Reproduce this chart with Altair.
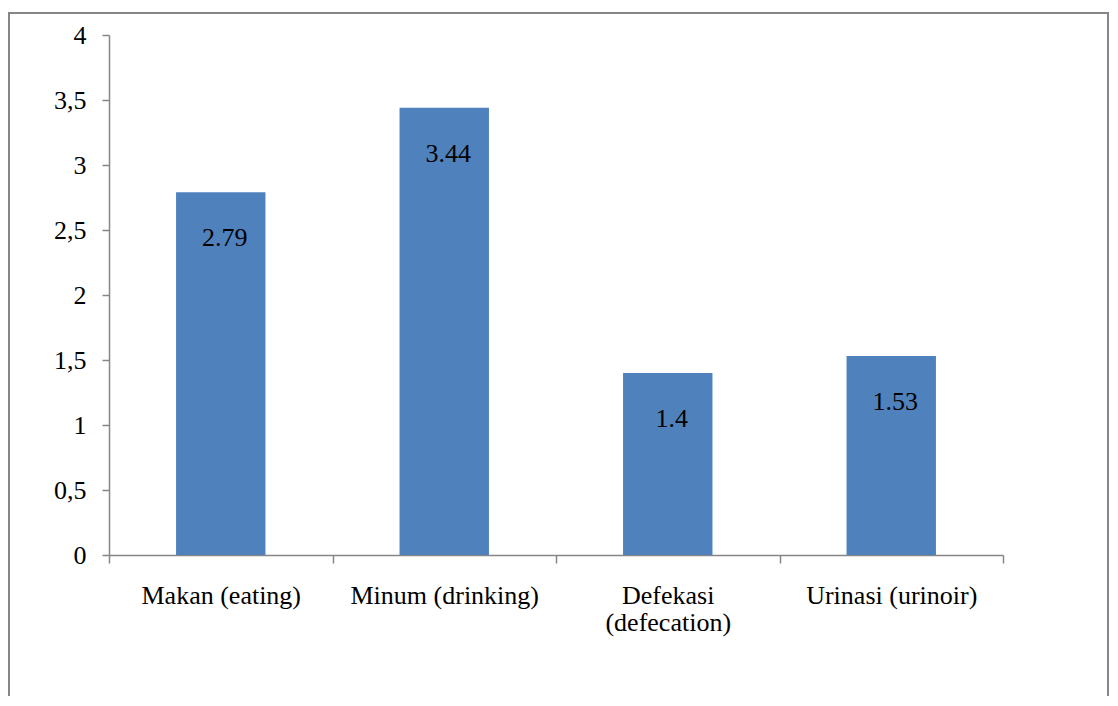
import altair as alt
import pandas as pd

categories = ["Makan (eating)", "Minum (drinking)", "Defekasi\n(defecation)", "Urinasi (urinoir)"]
values = [2.79, 3.44, 1.4, 1.53]
value_labels = ["2.79", "3.44", "1.4", "1.53"]
y_ticks = [0, 0.5, 1, 1.5, 2, 2.5, 3, 3.5, 4]

df = pd.DataFrame({"cat": categories, "val": values, "lab": value_labels})

FONT = "Liberation Serif"
GRAY = "#868686"
BLUE = "#4F81BD"
FS = 26

x_enc = alt.X(
    "cat:N",
    sort=categories,
    scale=alt.Scale(paddingInner=0, paddingOuter=0),
    axis=alt.Axis(
        title=None,
        labelAngle=0,
        labelFont=FONT,
        labelFontSize=FS,
        labelColor="black",
        labelPadding=19,
        labelLineHeight=27,
        labelLimit=500,
        labelExpr="split(datum.label, '\\n')",
        ticks=True,
        tickBand="extent",
        tickSize=8,
        tickColor=GRAY,
        tickWidth=1.5,
        domainColor=GRAY,
        domainWidth=1.5,
        grid=False,
    ),
)
y_enc = alt.Y(
    "val:Q",
    scale=alt.Scale(domain=[0, 4], nice=False),
    axis=alt.Axis(
        title=None,
        values=y_ticks,
        labelExpr="replace(format(datum.value, '.1~f'), '.', ',')",
        labelFont=FONT,
        labelFontSize=FS,
        labelColor="black",
        labelPadding=16,
        ticks=True,
        tickSize=7,
        tickColor=GRAY,
        tickWidth=1.5,
        domainColor=GRAY,
        domainWidth=1.5,
        grid=False,
    ),
)

bars = alt.Chart(df).mark_bar(color=BLUE, width=alt.RelativeBandSize(0.4)).encode(x=x_enc, y=y_enc)

labels = alt.Chart(df).mark_text(
    font=FONT, fontSize=FS, color="black", baseline="middle", align="center", dy=46, dx=4
).encode(x=alt.X("cat:N", sort=categories), y="val:Q", text="lab:N")

border = alt.Chart(pd.DataFrame({"a": [0]})).mark_rect(
    filled=False, stroke=GRAY, strokeWidth=2
).encode(
    x=alt.value(-100), x2=alt.value(999), y=alt.value(-22), y2=alt.value(720)
)

chart = alt.layer(border, bars, labels).properties(
    width=894,
    height=520,
    padding={"left": 101, "top": 27, "right": 107, "bottom": 141},
    autosize=alt.AutoSizeParams(type="none"),
).configure_view(stroke=None)

chart.save("out.html", embed_options={"renderer": "svg", "actions": False})
